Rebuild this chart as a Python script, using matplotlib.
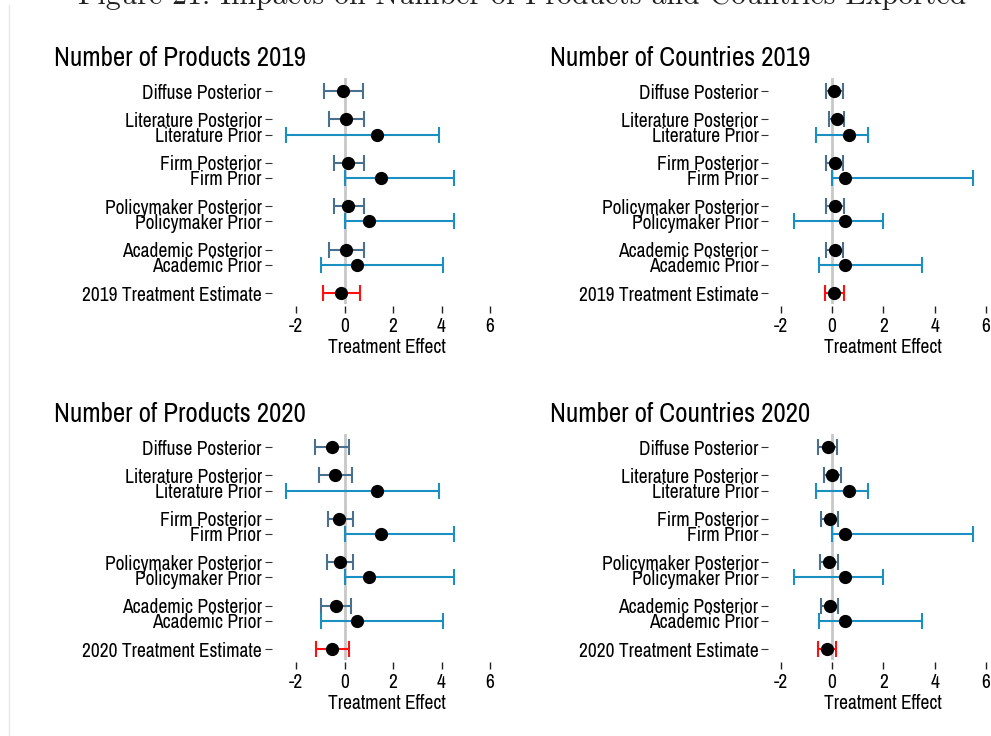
import matplotlib
matplotlib.use("Agg")
import matplotlib.pyplot as plt
from matplotlib import font_manager as fm
from matplotlib.lines import Line2D

names = {f.name for f in fm.fontManager.ttflist}
SANS = "DejaVu Sans"
for cand in ["Liberation Sans Narrow", "Arial Narrow", "Archivo Narrow", "PT Sans Narrow",
             "Roboto Condensed", "Fira Sans Condensed", "IBM Plex Sans Condensed",
             "Encode Sans Condensed"]:
    if cand in names:
        SANS = cand
        break
SERIF = "cmr10" if "cmr10" in names else ("Liberation Serif" if "Liberation Serif" in names else "DejaVu Serif")
plt.rcParams["font.family"] = [SANS, "DejaVu Sans"]

# ---------------- data ----------------
categories = ["Diffuse Posterior", "Literature Posterior", "Literature Prior",
              "Firm Posterior", "Firm Prior", "Policymaker Posterior",
              "Policymaker Prior", "Academic Posterior", "Academic Prior",
              "Treatment Estimate"]
kinds = ["post", "post", "prior", "post", "prior", "post", "prior", "post", "prior", "treat"]

prod19_est = [-0.06, 0.05, 1.32, 0.14, 1.52, 0.16, 1.02, 0.05, 0.52, -0.14]
prod19_lo = [-0.85, -0.66, -2.42, -0.44, 0.0, -0.44, 0.0, -0.64, -0.99, -0.88]
prod19_hi = [0.74, 0.80, 3.88, 0.80, 4.53, 0.80, 4.53, 0.80, 4.05, 0.63]

cty19_est = [0.08, 0.19, 0.68, 0.10, 0.50, 0.10, 0.50, 0.10, 0.50, 0.08]
cty19_lo = [-0.25, -0.12, -0.61, -0.22, 0.0, -0.22, -1.5, -0.22, -0.5, -0.29]
cty19_hi = [0.44, 0.48, 1.39, 0.44, 5.5, 0.45, 2.0, 0.44, 3.5, 0.45]

prod20_est = [-0.52, -0.40, 1.32, -0.21, 1.52, -0.18, 1.02, -0.34, 0.52, -0.51]
prod20_lo = [-1.23, -1.06, -2.42, -0.70, 0.0, -0.72, 0.0, -0.97, -0.99, -1.19]
prod20_hi = [0.17, 0.29, 3.88, 0.36, 4.53, 0.36, 4.53, 0.28, 4.05, 0.18]

cty20_est = [-0.16, 0.01, 0.68, -0.09, 0.50, -0.12, 0.50, -0.09, 0.50, -0.18]
cty20_lo = [-0.53, -0.32, -0.61, -0.43, 0.0, -0.48, -1.5, -0.43, -0.5, -0.55]
cty20_hi = [0.20, 0.36, 1.39, 0.23, 5.5, 0.25, 2.0, 0.23, 3.5, 0.17]

x_ticks = [-2, 0, 2, 4, 6]
suptitle = "Figure 21: Impacts on Number of Products and Countries Exported"

# ---------------- layout / style ----------------
ypos = [4.65, 4.0, 3.65, 3.0, 2.65, 2.0, 1.65, 1.0, 0.65, 0.0]
colors = {"post": "#4a7090", "prior": "#1a8fc2", "treat": "#ff1010"}
FS = 14.0
TFS = 19.4

W, H = 991, 736
fig = plt.figure(figsize=(W / 100, H / 100), dpi=100)
fig.patch.set_facecolor("white")

fig.text(0.527, 1 - 4 / H, suptitle, ha="center", va="baseline",
         fontsize=21.5, family=SERIF, color="#222222")
fig.add_artist(Line2D([9 / W, 9 / W], [0, 1 - 5 / H], color="#e6e6e6", lw=1.0))

panels = [
    ("Number of Products 2019", prod19_est, prod19_lo, prod19_hi, "2019", 284, 490, (-2.5, 6.0), 54, 0),
    ("Number of Countries 2019", cty19_est, cty19_lo, cty19_hi, "2019", 780.7, 986, (-2.0, 6.0), 550, 0),
    ("Number of Products 2020", prod20_est, prod20_lo, prod20_hi, "2020", 284, 490, (-2.5, 6.0), 54, 356),
    ("Number of Countries 2020", cty20_est, cty20_lo, cty20_hi, "2020", 780.7, 986, (-2.0, 6.0), 550, 356),
]

for title, est, lo, hi, year, x0, x1, xlim, tx, dy in panels:
    top, bot = 78 + dy, 304 + dy
    ax = fig.add_axes([x0 / W, 1 - bot / H, (x1 - x0) / W, (bot - top) / H])
    ax.set_xlim(*xlim)
    ax.set_ylim(-0.25, 4.95)
    ax.axvline(0, color="#c8c8c8", lw=2.0, zorder=1)
    for e, l, h, y, k in zip(est, lo, hi, ypos, kinds):
        ax.errorbar([e], [y], xerr=[[e - l], [h - e]], fmt="none",
                    ecolor=colors[k], elinewidth=1.5, capsize=5.5, capthick=1.5, zorder=2)
        ax.plot([e], [y], "o", color="black", markersize=8.5, zorder=3)
    labels = [c if c != "Treatment Estimate" else f"{year} Treatment Estimate" for c in categories]
    ax.set_yticks(ypos)
    ax.set_yticklabels(labels)
    ax.set_xticks(x_ticks)
    ax.set_xticklabels([str(t) for t in x_ticks])
    ax.set_xlabel("Treatment Effect", fontsize=FS, labelpad=1)
    for s in ["top", "right", "left", "bottom"]:
        ax.spines[s].set_visible(False)
    ax.spines["left"].set_position(("outward", 9))
    ax.spines["bottom"].set_position(("outward", 1.5))
    ax.tick_params(axis="y", length=5, width=0.8, pad=2, color="#333333", labelsize=FS)
    ax.tick_params(axis="x", length=5, width=1.0, pad=3, color="#222222", labelsize=FS)
    ax.set_facecolor("none")
    fig.text(tx / W, 1 - (58 + dy) / H, title, ha="left", va="center", fontsize=TFS)

fig.savefig("out.png", dpi=100)
